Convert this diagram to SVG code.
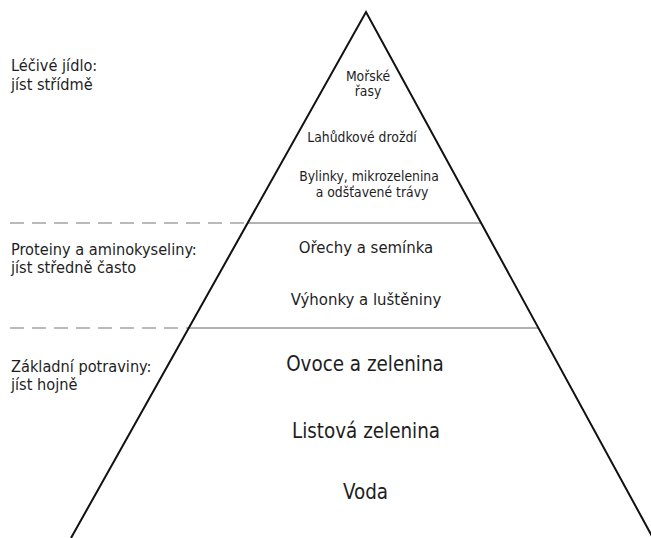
<svg xmlns="http://www.w3.org/2000/svg" width="651" height="538" viewBox="0 0 651 538">
<style>
text{font-family:"DejaVu Sans","Liberation Sans",sans-serif;font-stretch:condensed;fill:#1e1e1e}
.l{font-size:16.2px}
.s{font-size:13.8px;text-anchor:middle}
.m{font-size:16.6px;text-anchor:middle}
.b{font-size:20.4px;text-anchor:middle}
.sep{stroke:#666;stroke-width:1}
.dash{stroke:#777;stroke-width:1.2;stroke-dasharray:14 8}
</style>
<rect width="651" height="538" fill="#fff"/>
<g id="connectors">
<line class="dash" x1="10" y1="223" x2="248" y2="223"/>
<line class="sep" x1="248" y1="223" x2="481" y2="223"/>
<line class="dash" x1="10" y1="328" x2="189" y2="328"/>
<line class="sep" x1="189" y1="328" x2="538" y2="328"/>
</g>
<g id="pyramid">
<polyline points="71,538 366,12 653,538" fill="none" stroke="#111" stroke-width="2"/>
</g>
<g id="label-top">
<text class="l" x="11" y="71">Léčivé jídlo:</text>
<text class="l" x="11" y="90">jíst střídmě</text>
</g>
<g id="label-mid">
<text class="l" x="11" y="255">Proteiny a aminokyseliny:</text>
<text class="l" x="11" y="273">jíst středně často</text>
</g>
<g id="label-base">
<text class="l" x="11" y="372">Základní potraviny:</text>
<text class="l" x="11" y="390">jíst hojně</text>
</g>
<g id="n-morske"><text class="s" x="368" y="81">Mořské</text><text class="s" x="368" y="96">řasy</text></g>
<g id="n-drozdi"><text class="s" x="362" y="142">Lahůdkové droždí</text></g>
<g id="n-bylinky"><text class="s" x="369" y="181">Bylinky, mikrozelenina</text><text class="s" x="372" y="197">a odšťavené trávy</text></g>
<g id="n-orechy"><text class="m" x="366" y="253">Ořechy a semínka</text></g>
<g id="n-vyhonky"><text class="m" x="366" y="305">Výhonky a luštěniny</text></g>
<g id="n-ovoce"><text class="b" x="365" y="371">Ovoce a zelenina</text></g>
<g id="n-listova"><text class="b" x="366" y="438">Listová zelenina</text></g>
<g id="n-voda"><text class="b" x="365.5" y="499">Voda</text></g>
</svg>
